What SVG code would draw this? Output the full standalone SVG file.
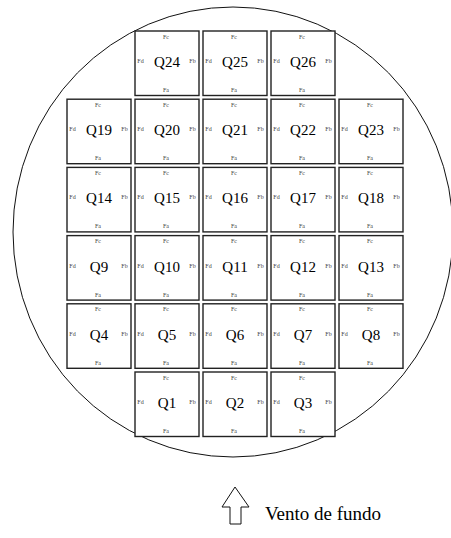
<svg xmlns="http://www.w3.org/2000/svg" width="451" height="538" viewBox="0 0 451 538">
<style>
.b{fill:#fff;stroke:#222;stroke-width:1.4}
.q{font-family:"Liberation Serif",serif;font-size:15px;text-anchor:middle;fill:#000}
.s{font-family:"Liberation Serif",serif;font-size:6px;text-anchor:middle;fill:#444}
.t{font-family:"Liberation Serif",serif;font-size:19px;fill:#000}
</style>
<defs>
<g id="cell">
<rect class="b" x="0" y="0" width="64" height="64.5"/>
<text class="s" x="31" y="7.5">Fc</text>
<text class="s" x="31" y="61">Fa</text>
<text class="s" x="5.5" y="32">Fd</text>
<text class="s" x="57.5" y="32">Fb</text>
</g>
</defs>
<ellipse cx="233" cy="232" rx="220" ry="225" fill="none" stroke="#111" stroke-width="1"/>
<g id="Q24"><use href="#cell" x="135" y="31"/><text class="q" x="167" y="67">Q24</text></g>
<g id="Q25"><use href="#cell" x="203" y="31"/><text class="q" x="235" y="67">Q25</text></g>
<g id="Q26"><use href="#cell" x="271" y="31"/><text class="q" x="303" y="67">Q26</text></g>
<g id="Q19"><use href="#cell" x="67" y="99.2"/><text class="q" x="99" y="135.2">Q19</text></g>
<g id="Q20"><use href="#cell" x="135" y="99.2"/><text class="q" x="167" y="135.2">Q20</text></g>
<g id="Q21"><use href="#cell" x="203" y="99.2"/><text class="q" x="235" y="135.2">Q21</text></g>
<g id="Q22"><use href="#cell" x="271" y="99.2"/><text class="q" x="303" y="135.2">Q22</text></g>
<g id="Q23"><use href="#cell" x="339" y="99.2"/><text class="q" x="371" y="135.2">Q23</text></g>
<g id="Q14"><use href="#cell" x="67" y="167.4"/><text class="q" x="99" y="203.4">Q14</text></g>
<g id="Q15"><use href="#cell" x="135" y="167.4"/><text class="q" x="167" y="203.4">Q15</text></g>
<g id="Q16"><use href="#cell" x="203" y="167.4"/><text class="q" x="235" y="203.4">Q16</text></g>
<g id="Q17"><use href="#cell" x="271" y="167.4"/><text class="q" x="303" y="203.4">Q17</text></g>
<g id="Q18"><use href="#cell" x="339" y="167.4"/><text class="q" x="371" y="203.4">Q18</text></g>
<g id="Q9"><use href="#cell" x="67" y="235.6"/><text class="q" x="99" y="271.6">Q9</text></g>
<g id="Q10"><use href="#cell" x="135" y="235.6"/><text class="q" x="167" y="271.6">Q10</text></g>
<g id="Q11"><use href="#cell" x="203" y="235.6"/><text class="q" x="235" y="271.6">Q11</text></g>
<g id="Q12"><use href="#cell" x="271" y="235.6"/><text class="q" x="303" y="271.6">Q12</text></g>
<g id="Q13"><use href="#cell" x="339" y="235.6"/><text class="q" x="371" y="271.6">Q13</text></g>
<g id="Q4"><use href="#cell" x="67" y="303.8"/><text class="q" x="99" y="339.8">Q4</text></g>
<g id="Q5"><use href="#cell" x="135" y="303.8"/><text class="q" x="167" y="339.8">Q5</text></g>
<g id="Q6"><use href="#cell" x="203" y="303.8"/><text class="q" x="235" y="339.8">Q6</text></g>
<g id="Q7"><use href="#cell" x="271" y="303.8"/><text class="q" x="303" y="339.8">Q7</text></g>
<g id="Q8"><use href="#cell" x="339" y="303.8"/><text class="q" x="371" y="339.8">Q8</text></g>
<g id="Q1"><use href="#cell" x="135" y="372"/><text class="q" x="167" y="408">Q1</text></g>
<g id="Q2"><use href="#cell" x="203" y="372"/><text class="q" x="235" y="408">Q2</text></g>
<g id="Q3"><use href="#cell" x="271" y="372"/><text class="q" x="303" y="408">Q3</text></g>
<g id="connectors"></g>
<g id="wind">
<polygon points="235,487 249,507 241,507 241,524 230,524 230,507 222,507" fill="#fff" stroke="#111" stroke-width="1"/>
<text class="t" x="265" y="520">Vento de fundo</text>
</g>
</svg>
